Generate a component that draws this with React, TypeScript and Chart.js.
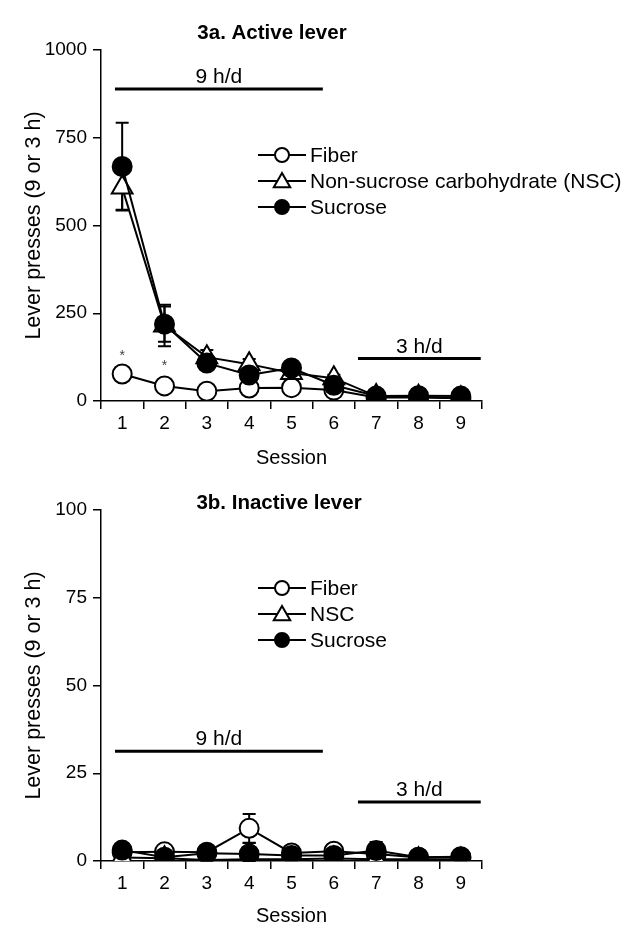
import React, { useEffect, useRef } from 'react';
import { Chart, registerables } from 'chart.js';

Chart.register(...registerables);

const FONT = "'Liberation Sans', Arial, Helvetica, sans-serif";

// ---------- data ----------
const sessions = ['1', '2', '3', '4', '5', '6', '7', '8', '9'];

const activeFiber = [77, 43, 28, 37, 38, 31, 10, 10, 8];
const activeFiberErr = [10, 8, 5, 6, 6, 5, 2, 2, 2];
const activeNSC = [608, 215, 125, 105, 80, 65, 14, 12, 8];
const activeNSCErr = [63, 59, 20, 15, 12, 10, 4, 3, 3];
const activeSucrose = [668, 219, 108, 74, 94, 45, 14, 15, 14];
const activeSucroseErr = [125, 50, 15, 12, 10, 8, 4, 3, 4];
const activeYTicks = [0, 250, 500, 750, 1000];
const activeLegend = ['Fiber', 'Non-sucrose carbohydrate (NSC)', 'Sucrose'];
const activeStars = [136, 108, null, null, null, null, null, null, null];
const activePhaseLevels = [889, 121];

const inactiveFiber = [2.5, 2.6, 2.5, 9.3, 2.3, 2.8, 2.0, 1.0, 1.0];
const inactiveFiberErr = [0.5, 0.5, 0.5, 4.1, 0.5, 0.5, 0.5, 0.3, 0.3];
const inactiveNSC = [1.0, 0.8, 0.3, 0.5, 0.5, 0.7, 0.5, 0.5, 0.4];
const inactiveNSCErr = [0.3, 0.3, 0.2, 0.3, 0.3, 0.3, 0.3, 0.2, 0.2];
const inactiveSucrose = [3.1, 1.1, 2.2, 2.0, 1.6, 1.6, 3.0, 1.1, 1.2];
const inactiveSucroseErr = [0.5, 0.5, 0.5, 3.1, 0.5, 0.5, 2.4, 0.5, 0.5];
const inactiveYTicks = [0, 25, 50, 75, 100];
const inactiveLegend = ['Fiber', 'NSC', 'Sucrose'];
const inactivePhaseLevels = [31.3, 16.8];

const phaseLabels = ['9 h/d', '3 h/d'];
const phaseSpans = [
  [-0.17, 4.74],
  [5.57, 8.47],
];

type Spec = {
  title: string;
  titleX: number;
  fiber: number[];
  fiberErr: number[];
  nsc: number[];
  nscErr: number[];
  sucrose: number[];
  sucroseErr: number[];
  yTicks: number[];
  legend: string[];
  legendTop: number;
  legendGap: number;
  stars?: (number | null)[];
  phaseLevels: number[];
  areaTop: number;
  xAxisHeight: number;
  xTitlePad: number;
};

function markerPath(ctx: CanvasRenderingContext2D, style: string, x: number, y: number, r: number) {
  ctx.beginPath();
  if (style === 'triangle') {
    const c = Math.cos(Math.PI / 6) * r;
    ctx.moveTo(x, y - r);
    ctx.lineTo(x + c, y + r / 2);
    ctx.lineTo(x - c, y + r / 2);
    ctx.closePath();
  } else {
    ctx.arc(x, y, r, 0, Math.PI * 2);
  }
}

function makeChart(canvas: HTMLCanvasElement, s: Spec) {
  const styles = [
    { style: 'circle', fill: '#ffffff', r: 9.5, lr: 7 },
    { style: 'triangle', fill: '#ffffff', r: 12, lr: 9.5 },
    { style: 'circle', fill: '#000000', r: 9.5, lr: 7 },
  ];
  const series = [s.fiber, s.nsc, s.sucrose];
  const errs = [s.fiberErr, s.nscErr, s.sucroseErr];

  const decor = {
    id: 'decor',
    beforeDatasetsDraw(chart: any) {
      const ctx = chart.ctx as CanvasRenderingContext2D;
      const xs = chart.scales.x;
      const ys = chart.scales.y;
      ctx.save();
      ctx.strokeStyle = '#000';
      ctx.lineWidth = 2;
      series.forEach((vals, k) => {
        vals.forEach((v, i) => {
          const e = errs[k][i];
          const x = xs.getPixelForValue(i);
          const y1 = ys.getPixelForValue(v + e);
          const y2 = ys.getPixelForValue(Math.max(0, v - e));
          ctx.beginPath();
          ctx.moveTo(x, y1);
          ctx.lineTo(x, y2);
          ctx.moveTo(x - 6.5, y1);
          ctx.lineTo(x + 6.5, y1);
          ctx.moveTo(x - 6.5, y2);
          ctx.lineTo(x + 6.5, y2);
          ctx.stroke();
        });
      });
      ctx.restore();
    },
    afterDraw(chart: any) {
      const ctx = chart.ctx as CanvasRenderingContext2D;
      const xs = chart.scales.x;
      const ys = chart.scales.y;
      ctx.save();
      // title
      ctx.fillStyle = '#000';
      ctx.font = `bold 20.5px ${FONT}`;
      ctx.textAlign = 'center';
      ctx.textBaseline = 'middle';
      ctx.fillText(s.title, s.titleX, 33);

      // phase bars
      ctx.strokeStyle = '#000';
      ctx.lineWidth = 3;
      ctx.font = `21px ${FONT}`;
      ctx.textBaseline = 'alphabetic';
      phaseSpans.forEach((span, k) => {
        const xa = xs.getPixelForValue(span[0]);
        const xb = xs.getPixelForValue(span[1]);
        const y = ys.getPixelForValue(s.phaseLevels[k]);
        ctx.beginPath();
        ctx.moveTo(xa, y);
        ctx.lineTo(xb, y);
        ctx.stroke();
        ctx.fillText(phaseLabels[k], (xa + xb) / 2, y - 6);
      });

      // asterisks
      if (s.stars) {
        ctx.font = `14px ${FONT}`;
        ctx.fillStyle = '#444';
        ctx.textBaseline = 'middle';
        s.stars.forEach((v, i) => {
          if (v == null) return;
          ctx.fillText('*', xs.getPixelForValue(i), ys.getPixelForValue(v) + 3);
        });
      }

      // legend
      const lx0 = 258;
      const lx1 = 306;
      const mx = 282;
      ctx.textAlign = 'left';
      ctx.textBaseline = 'middle';
      ctx.font = `21px ${FONT}`;
      s.legend.forEach((label, k) => {
        const y = s.legendTop + k * s.legendGap;
        ctx.strokeStyle = '#000';
        ctx.lineWidth = 2;
        ctx.beginPath();
        ctx.moveTo(lx0, y);
        ctx.lineTo(lx1, y);
        ctx.stroke();
        const st = styles[k];
        markerPath(ctx, st.style, mx, st.style === 'triangle' ? y + 1.5 : y, st.lr);
        ctx.fillStyle = st.fill;
        ctx.fill();
        ctx.stroke();
        ctx.fillStyle = '#000';
        ctx.fillText(label, 310, y + 1);
      });
      ctx.restore();
    },
  };

  const mk = (label: string, data: number[], k: number, order: number) => ({
    label,
    data,
    order,
    borderColor: '#000',
    borderWidth: 2,
    pointStyle: styles[k].style,
    pointRadius: styles[k].r,
    pointBorderWidth: 2,
    pointBorderColor: '#000',
    pointBackgroundColor: styles[k].fill,
    tension: 0,
  });

  return new Chart(canvas, {
    type: 'line',
    data: {
      labels: sessions,
      datasets: [
        mk(s.legend[0], s.fiber, 0, 2),
        mk(s.legend[1], s.nsc, 1, 1),
        mk(s.legend[2], s.sucrose, 2, 0),
      ],
    },
    options: {
      responsive: false,
      animation: false,
      devicePixelRatio: 1,
      layout: { padding: { top: s.areaTop, right: 149, bottom: 0, left: 0 } },
      plugins: { legend: { display: false }, tooltip: { enabled: false }, title: { display: false } },
      scales: {
        x: {
          type: 'category',
          offset: true,
          grid: { offset: true, drawOnChartArea: false, drawTicks: true, tickLength: 8, tickColor: '#000', lineWidth: 1.5 },
          border: { display: true, color: '#000', width: 1.5 },
          ticks: { color: '#000', font: { family: FONT, size: 19 }, padding: 3, maxRotation: 0 },
          title: { display: true, text: 'Session', color: '#000', font: { family: FONT, size: 20 }, padding: { top: 0, bottom: s.xTitlePad } },
          afterFit: (scale: any) => {
            scale.height = s.xAxisHeight;
          },
        },
        y: {
          min: s.yTicks[0],
          max: s.yTicks[s.yTicks.length - 1],
          afterBuildTicks: (scale: any) => {
            scale.ticks = s.yTicks.map((v) => ({ value: v }));
          },
          grid: { drawOnChartArea: false, drawTicks: true, tickLength: 8, tickColor: '#000', lineWidth: 1.5 },
          border: { display: true, color: '#000', width: 1.5 },
          ticks: { color: '#000', font: { family: FONT, size: 19 }, padding: 6, callback: (v: any) => String(v) },
          title: { display: true, text: 'Lever presses (9 or 3 h)', color: '#000', font: { family: FONT, size: 21.5 }, padding: { top: 21, bottom: 0 } },
          afterFit: (scale: any) => {
            scale.width = 101;
          },
        },
      },
    },
    plugins: [decor],
  } as any);
}

export default function App() {
  const topRef = useRef<HTMLCanvasElement>(null);
  const botRef = useRef<HTMLCanvasElement>(null);

  useEffect(() => {
    const a = makeChart(topRef.current!, {
      title: '3a. Active lever',
      titleX: 272,
      fiber: activeFiber,
      fiberErr: activeFiberErr,
      nsc: activeNSC,
      nscErr: activeNSCErr,
      sucrose: activeSucrose,
      sucroseErr: activeSucroseErr,
      yTicks: activeYTicks,
      legend: activeLegend,
      legendTop: 155,
      legendGap: 26,
      stars: activeStars,
      phaseLevels: activePhaseLevels,
      areaTop: 50,
      xAxisHeight: 69,
      xTitlePad: 0,
    });
    const b = makeChart(botRef.current!, {
      title: '3b. Inactive lever',
      titleX: 279,
      fiber: inactiveFiber,
      fiberErr: inactiveFiberErr,
      nsc: inactiveNSC,
      nscErr: inactiveNSCErr,
      sucrose: inactiveSucrose,
      sucroseErr: inactiveSucroseErr,
      yTicks: inactiveYTicks,
      legend: inactiveLegend,
      legendTop: 118,
      legendGap: 26,
      phaseLevels: inactivePhaseLevels,
      areaTop: 40,
      xAxisHeight: 76,
      xTitlePad: 9,
    });
    return () => {
      a.destroy();
      b.destroy();
    };
  }, []);

  return (
    <div style={{ position: 'absolute', left: 0, top: 0, width: 631, height: 937, background: '#fff' }}>
      <canvas ref={topRef} width={631} height={470} style={{ position: 'absolute', left: 0, top: 0 }} />
      <canvas ref={botRef} width={631} height={467} style={{ position: 'absolute', left: 0, top: 470 }} />
    </div>
  );
}
